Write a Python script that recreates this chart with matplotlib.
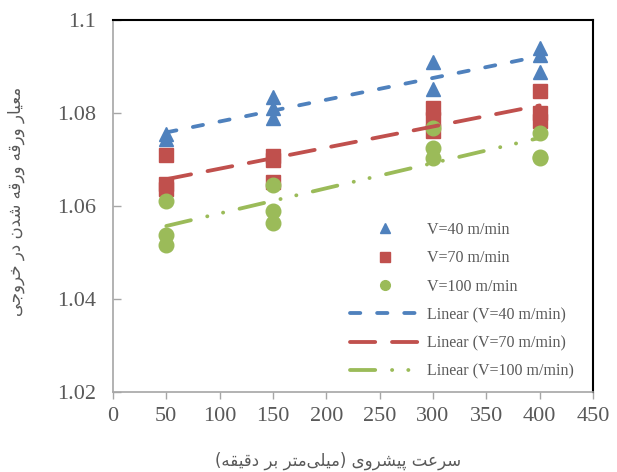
import numpy as np
import matplotlib
matplotlib.use("Agg")
import matplotlib.pyplot as plt
from matplotlib.lines import Line2D

# ── data ─────────────────────────────────────────────────────────────────────
x40 = [50, 50, 150, 150, 150, 300, 300, 400, 400, 400]
y40 = [1.0745, 1.0755, 1.0834, 1.0811, 1.0789, 1.0910, 1.0852, 1.0940, 1.0925, 1.0888]

x70 = [50, 50, 50, 150, 150, 150, 300, 300, 300, 400, 400, 400]
y70 = [1.0710, 1.0648, 1.0636, 1.0708, 1.0700, 1.0652,
       1.0811, 1.0787, 1.0762, 1.0847, 1.0800, 1.0782]

x100 = [50, 50, 50, 150, 150, 150, 300, 300, 300, 400, 400, 400]
y100 = [1.0610, 1.0537, 1.0516, 1.0645, 1.0589, 1.0563,
        1.0768, 1.0725, 1.0703, 1.0757, 1.0705, 1.0703]

labels = ["V=40 m/min", "V=70 m/min", "V=100 m/min"]
xticks = [0, 50, 100, 150, 200, 250, 300, 350, 400, 450]
yticks = [1.02, 1.04, 1.06, 1.08, 1.1]
ytick_labels = ["1.02", "1.04", "1.06", "1.08", "1.1"]

xlabel_fa = "سرعت پیشروی (میلی\u200cمتر بر دقیقه)"
ylabel_fa = "معیار ورقه ورقه شدن در خروجی"


# ── minimal Persian shaping (matplotlib has no text shaping) ─────────────────
FORMS = {
    'ا': ('\uFE8D', '\uFE8E', None, None),
    'ب': ('\uFE8F', '\uFE90', '\uFE91', '\uFE92'),
    'پ': ('\uFB56', '\uFB57', '\uFB58', '\uFB59'),
    'ت': ('\uFE95', '\uFE96', '\uFE97', '\uFE98'),
    'ج': ('\uFE9D', '\uFE9E', '\uFE9F', '\uFEA0'),
    'خ': ('\uFEA5', '\uFEA6', '\uFEA7', '\uFEA8'),
    'د': ('\uFEA9', '\uFEAA', None, None),
    'ر': ('\uFEAD', '\uFEAE', None, None),
    'و': ('\uFEED', '\uFEEE', None, None),
    'س': ('\uFEB1', '\uFEB2', '\uFEB3', '\uFEB4'),
    'ش': ('\uFEB5', '\uFEB6', '\uFEB7', '\uFEB8'),
    'ع': ('\uFEC9', '\uFECA', '\uFECB', '\uFECC'),
    'ق': ('\uFED5', '\uFED6', '\uFED7', '\uFED8'),
    'ل': ('\uFEDD', '\uFEDE', '\uFEDF', '\uFEE0'),
    'م': ('\uFEE1', '\uFEE2', '\uFEE3', '\uFEE4'),
    'ن': ('\uFEE5', '\uFEE6', '\uFEE7', '\uFEE8'),
    'ه': ('\uFEE9', '\uFEEA', '\uFEEB', '\uFEEC'),
    'ی': ('\uFBFC', '\uFBFD', '\uFBFE', '\uFBFF'),
}


def shape(s):
    out = []
    for i, c in enumerate(s):
        if c not in FORMS:
            out.append('' if c == '\u200c' else c)
            continue
        iso, fin, ini, med = FORMS[c]
        prev = s[i - 1] if i > 0 else ''
        nxt = s[i + 1] if i + 1 < len(s) else ''
        jp = prev in FORMS and FORMS[prev][2] is not None
        jn = ini is not None and nxt in FORMS
        out.append(med if jp and jn else fin if jp else ini if jn else iso)
    vis = ''.join(out)[::-1]
    return vis.translate(str.maketrans('()', ')('))


# ── plot ─────────────────────────────────────────────────────────────────────
BLUE, RED, GREEN = '#4F81BD', '#C0504D', '#9BBB59'
GREY = '#595959'
SERIF = 'Liberation Serif'

fig = plt.figure(figsize=(6.17, 4.72), dpi=100)
ax = fig.add_axes([0.1831, 0.1695, 0.778, 0.7881])

series = [(x40, y40, BLUE, '^', (0, (2.7, 4.4))),
          (x70, y70, RED, 's', (0, (6.6, 4.4))),
          (x100, y100, GREEN, 'o', (0, (6.6, 4.4, 0.05, 4.2, 0.05, 4.4)))]

pts, fits = [], []
for (xs, ys, col, mk, ls), lab in zip(series, labels):
    h, = ax.plot(xs, ys, ls='none', marker=mk, ms=10.5, color=col,
                 mec=col, label=lab, zorder=3)
    pts.append(h)
for (xs, ys, col, mk, ls), lab in zip(series, labels):
    k, b = np.polyfit(xs, ys, 1)
    xx = np.array([min(xs), max(xs)])
    f, = ax.plot(xx, k * xx + b, color=col, lw=2.75, ls=ls,
                 dash_capstyle='round', label=f"Linear ({lab})", zorder=4)
    fits.append(f)

ax.set_xlim(0, 450)
ax.set_ylim(1.02, 1.1)
ax.set_xticks(xticks)
ax.set_xticklabels([str(t) for t in xticks])
ax.set_yticks(yticks)
ax.set_yticklabels(ytick_labels)

for lab in ax.get_xticklabels() + ax.get_yticklabels():
    lab.set_fontfamily(SERIF)
    lab.set_fontsize(16)
    lab.set_color(GREY)

ax.tick_params(axis='x', direction='out', length=5, width=1, color='#A6A6A6', pad=6)
ax.tick_params(axis='y', direction='in', length=6, width=1, color='#A6A6A6', pad=12)

for side in ('left', 'bottom'):
    ax.spines[side].set_color('#A6A6A6')
    ax.spines[side].set_linewidth(1.2)
for side in ('top', 'right'):
    ax.spines[side].set_color('black')
    ax.spines[side].set_linewidth(1.5)

ax.set_xlabel(shape(xlabel_fa), fontsize=12, color=GREY, family='DejaVu Sans',
              va='center')
ax.set_ylabel(shape(ylabel_fa), fontsize=12, color=GREY, family='DejaVu Sans',
              va='center')
ax.xaxis.set_label_coords(0.469, -0.185)
ax.yaxis.set_label_coords(-0.202, 0.512)

# legend: markers first, then trend lines
leg_handles = [Line2D([], [], ls='none', marker=h.get_marker(), ms=7,
                      color=h.get_color()) for h in pts] + fits
leg_labels = labels + [f.get_label() for f in fits]
leg = ax.legend(leg_handles, leg_labels, loc='upper left',
                bbox_to_anchor=(0.494, 0.457), frameon=False,
                prop={'family': SERIF, 'size': 11.5}, handlelength=4.4,
                handletextpad=0.4, labelspacing=0.77, borderpad=0,
                borderaxespad=0)
for t in leg.get_texts():
    t.set_color(GREY)

fig.savefig("out.png", dpi=100)
